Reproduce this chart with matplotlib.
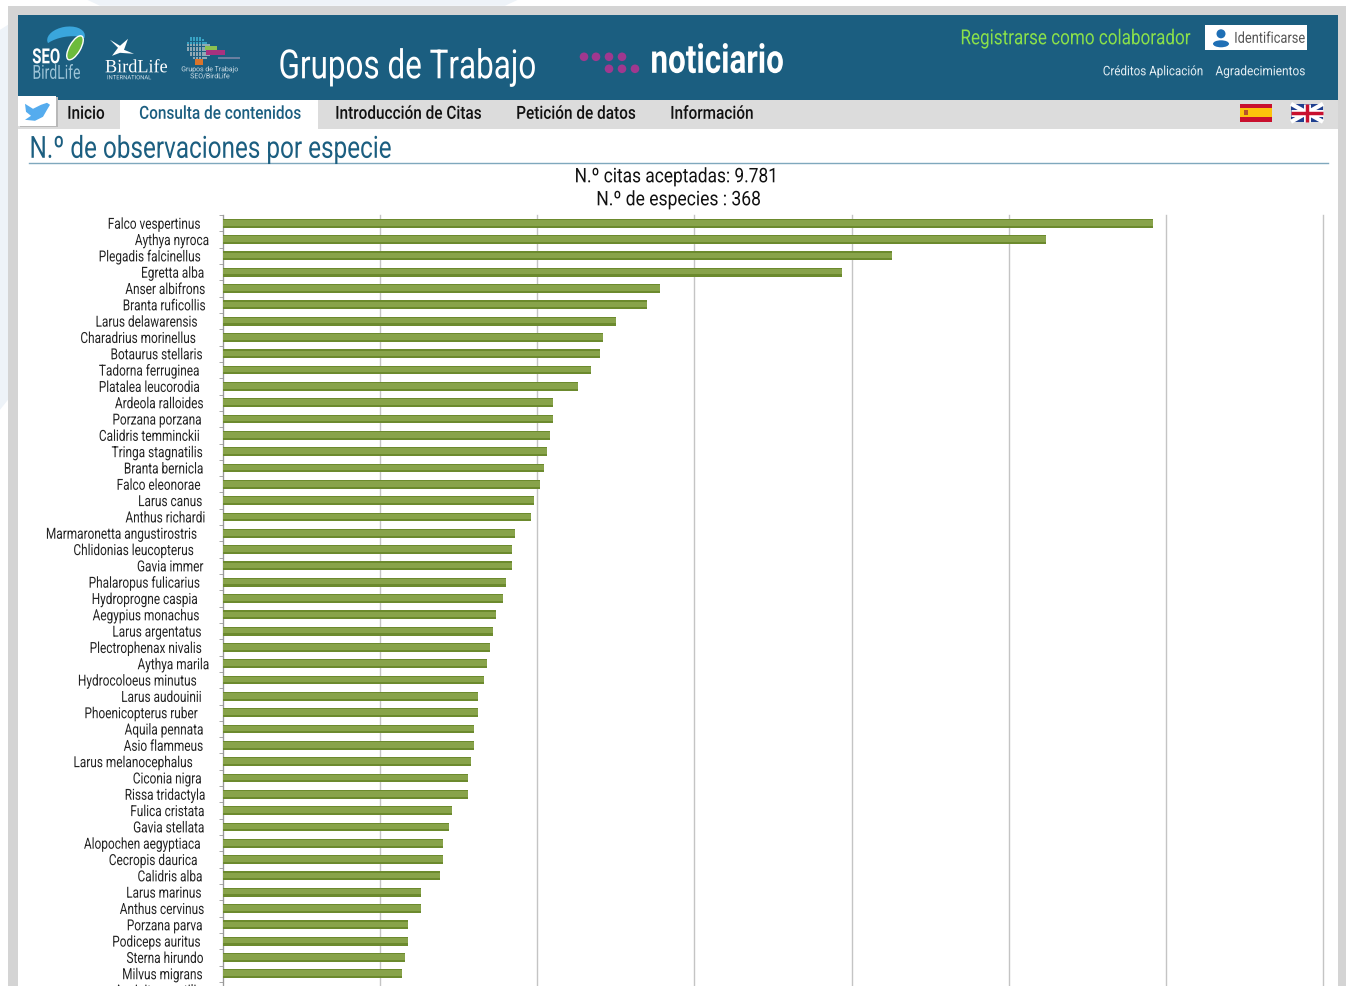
#!/usr/bin/env python
import matplotlib
matplotlib.use('Agg')
import matplotlib.pyplot as plt
from matplotlib.patches import Rectangle, Circle, Ellipse, Polygon
from matplotlib.patheffects import AbstractPathEffect
from matplotlib.transforms import Affine2D

W, H = 1346, 987

species = ['Falco vespertinus', 'Aythya nyroca', 'Plegadis falcinellus', 'Egretta alba',
           'Anser albifrons', 'Branta ruficollis', 'Larus delawarensis', 'Charadrius morinellus',
           'Botaurus stellaris', 'Tadorna ferruginea', 'Platalea leucorodia', 'Ardeola ralloides',
           'Porzana porzana', 'Calidris temminckii', 'Tringa stagnatilis', 'Branta bernicla',
           'Falco eleonorae', 'Larus canus', 'Anthus richardi', 'Marmaronetta angustirostris',
           'Chlidonias leucopterus', 'Gavia immer', 'Phalaropus fulicarius', 'Hydroprogne caspia',
           'Aegypius monachus', 'Larus argentatus', 'Plectrophenax nivalis', 'Aythya marila',
           'Hydrocoloeus minutus', 'Larus audouinii', 'Phoenicopterus ruber', 'Aquila pennata',
           'Asio flammeus', 'Larus melanocephalus', 'Ciconia nigra', 'Rissa tridactyla',
           'Fulica cristata', 'Gavia stellata', 'Alopochen aegyptiaca', 'Cecropis daurica',
           'Calidris alba', 'Larus marinus', 'Anthus cervinus', 'Porzana parva',
           'Podiceps auritus', 'Sterna hirundo', 'Milvus migrans', 'Accipiter gentilis']
counts = [296, 262, 213, 197, 139, 135, 125, 121, 120, 117, 113, 105, 105, 104, 103, 102,
          101, 99, 98, 93, 92, 92, 90, 89, 87, 86, 85, 84, 83, 81, 81, 80, 80, 79, 78, 78,
          73, 72, 70, 70, 69, 63, 63, 59, 59, 58, 57, 56]
# right edge of each species label, the page does not line them up
label_right = [200, 209, 200, 204, 205, 205, 197, 195, 202, 199, 199, 203, 201, 199, 202, 203,
               200, 202, 205, 196, 193, 203, 199, 197, 199, 201, 201, 209, 196, 201, 197, 203,
               203, 192, 201, 205, 204, 204, 200, 197, 202, 201, 204, 202, 200, 203, 202, 202]
x_ticks = [0, 50, 100, 150, 200, 250, 300, 350]

nav_items = ['Inicio', 'Consulta de contenidos', 'Introducción de Citas', 'Petición de datos', 'Información']
nav_x = [67, 139, 335, 516, 670]

plt.rcParams['font.family'] = ['Roboto', 'DejaVu Sans']

HEADER = '#1b5e80'
GREY = '#d4d4d4'
NAV = '#dcdcdc'
SHIFT = 0.8


class Squeeze(AbstractPathEffect):
    # the page font is a condensed one and none is installed, so narrow the glyphs
    def __init__(self, sx, ha='left'):
        super().__init__()
        self.sx = sx
        self.ha = ha

    def draw_path(self, renderer, gc, tpath, affine, rgbFace=None):
        ext = tpath.get_extents()
        ref = {'left': ext.x0, 'center': (ext.x0 + ext.x1) / 2, 'right': ext.x1}[self.ha]
        squeeze = Affine2D().translate(-ref, 0).scale(self.sx, 1).translate(ref, 0)
        renderer.draw_path(gc, tpath, squeeze + affine, rgbFace)


fig = plt.figure(figsize=(W / 100, H / 100), dpi=100, facecolor='white')

# page furniture, drawn in pixel coordinates
bg = fig.add_axes([0, 0, 1, 1])
bg.set_xlim(0, W)
bg.set_ylim(H - SHIFT, -SHIFT)
bg.axis('off')


def box(x0, y0, x1, y1, color, **kw):
    bg.add_patch(Rectangle((x0, y0), x1 - x0, y1 - y0, facecolor=color, edgecolor='none', **kw))


def label(x, y, s, sx, **kw):
    ha = kw.setdefault('ha', 'left')
    kw.setdefault('va', 'center')
    t = bg.text(x, y, s, **kw)
    t.set_path_effects([Squeeze(sx, ha)])
    return t


bg.add_patch(Polygon([(85, -1), (520, -1), (505, 6), (100, 6)], facecolor='#eef3f8', edgecolor='none'))
bg.add_patch(Polygon([(0, 30), (8, 25), (8, 400), (0, 410)], facecolor='#eef3f8', edgecolor='none'))
box(8, 6, W, H, GREY)
box(18, 15, 1338, H, 'white')
box(18, 15, 1338, 100, HEADER)
box(18, 100, 1338, 129, NAV)
box(120, 100, 318, 129, 'white')

# SEO logo
bg.add_patch(Ellipse((66, 38), 38, 22, angle=-10, facecolor='#3aa6dc', edgecolor='none'))
bg.add_patch(Ellipse((66, 47), 46, 20, angle=-10, facecolor=HEADER, edgecolor='none'))
bg.add_patch(Ellipse((75, 48), 11, 27, angle=30, facecolor='#6cbb3c', edgecolor='white', lw=1))
label(32, 58, 'SEO', 0.72, color='white', fontsize=15, fontweight='bold')
label(32, 74, 'BirdLife', 0.72, color='#9cc3d6', fontsize=14)
# BirdLife logo
bg.add_patch(Polygon([(110, 40), (120, 46), (128, 39), (124, 50), (134, 54), (120, 53), (112, 56), (118, 48)],
                     facecolor='white', edgecolor='none'))
label(105, 68, 'BirdLife', 0.97, color='white', fontsize=13.5, family='Liberation Serif')
label(107, 78, 'INTERNATIONAL', 1.0, color='#cfdfe8', fontsize=4.2)
# pixel bird of the working groups
for r, (c0, c1) in enumerate([(1, 5), (1, 6), (0, 7), (0, 8), (0, 8), (0, 8), (1, 8), (1, 8), (2, 7)]):
    for c in range(c0, c1):
        tone = '#38a3c4' if r < 3 else '#8fa9b5'
        box(187 + c * 2.9, 37 + r * 2.5, 189.2 + c * 2.9, 38.9 + r * 2.5, tone)
box(205, 46, 217, 50, '#8cc152')
box(206, 50, 225, 55, '#a8327f')
box(218, 57, 240, 59, '#6a7fa0')
box(195, 59, 203, 65, '#d9742b')
label(210, 70, 'Grupos de Trabajo', 1.0, color='#cfdfe8', fontsize=5, ha='center')
label(210, 77, 'SEO/BirdLife', 1.0, color='#cfdfe8', fontsize=5, ha='center')

label(278, 67, 'Grupos de Trabajo', 0.78, color='white', fontsize=29)
for px, py in [(584, 57), (596, 57), (609, 57), (622, 57), (609, 69), (622, 69), (635, 69)]:
    bg.add_patch(Circle((px, py), 4.3, facecolor='#a0388f', edgecolor='none'))
label(650, 62, 'noticiario', 0.78, color='white', fontsize=29, fontweight='bold')

label(1191, 39, 'Registrarse como colaborador', 0.82, color='#8ae04a', fontsize=15, ha='right')
box(1205, 25, 1307, 50, 'white')
bg.add_patch(Circle((1221, 34), 4.5, facecolor='#1f6fb5', edgecolor='none'))
bg.add_patch(Ellipse((1221, 44), 16, 7, facecolor='#1f6fb5', edgecolor='none'))
label(1305, 39, 'Identificarse', 0.84, color='#555555', fontsize=11, ha='right')
label(1204, 72, 'Créditos Aplicación', 0.88, color='#e4eef3', fontsize=9.5, ha='right')
label(1306, 72, 'Agradecimientos', 0.9, color='#e4eef3', fontsize=9.5, ha='right')

# twitter box
box(19.5, 97.5, 57.5, 127.5, '#b8b8b8', zorder=3)
box(18, 96, 56, 126, 'white', zorder=3)
bg.add_patch(Polygon([(25, 104), (33, 109), (41, 105), (47, 103), (50, 105), (47, 110), (43, 117), (35, 121),
                      (25, 120), (31, 116), (26, 112)], facecolor='#55acee', edgecolor='none', zorder=4))

for item, px in zip(nav_items, nav_x):
    col = HEADER if item == 'Consulta de contenidos' else '#111111'
    label(px, 114, item, 0.85, color=col, fontsize=13, fontweight=500)

# flags
box(1240, 104, 1272, 122, '#c8102e')
box(1240, 108.5, 1272, 117.5, '#fcc30b')
box(1244, 110, 1248, 115, '#b5522a')
box(1291, 104, 1323, 122, '#1f3f8f')
bg.plot([1291, 1323], [104, 122], color='white', lw=3, solid_capstyle='butt')
bg.plot([1291, 1323], [122, 104], color='white', lw=3, solid_capstyle='butt')
bg.plot([1291, 1323], [113, 113], color='white', lw=5, solid_capstyle='butt')
bg.plot([1307, 1307], [104, 122], color='white', lw=5, solid_capstyle='butt')
bg.plot([1291, 1323], [113, 113], color='#c8102e', lw=2.5, solid_capstyle='butt')
bg.plot([1307, 1307], [104, 122], color='#c8102e', lw=2.5, solid_capstyle='butt')

label(29, 149.5, 'N.º de observaciones por especie', 0.795, color=HEADER, fontsize=22)
bg.plot([29, 1328], [163.5, 163.5], color='#7fa8bd', lw=1)
label(676, 177, 'N.º citas aceptadas: 9.781', 0.86, color='#111111', fontsize=14.5, ha='center')
label(678, 200, 'N.º de especies : 368', 0.87, color='#111111', fontsize=14.5, ha='center')

# the chart runs past the bottom of the screenshot
top, bottom = 215.3 + SHIFT, H + 20
row = 16.315
ax = fig.add_axes([223 / W, (H - bottom) / H, 1100 / W, (bottom - top) / H])
ax.patch.set_alpha(0)
ax.set_xlim(0, 350)
ax.set_ylim((bottom - top) / row - 0.5, -0.5)
y_pos = list(range(len(species)))
ax.barh(y_pos, counts, height=0.54, color='#6c8a2e', edgecolor='none', zorder=3)
# lighter band along the middle of each bar
ax.barh([y - 0.03 for y in y_pos], counts, height=0.34, color='#88a34a', edgecolor='none', zorder=4)
ax.set_xticks(x_ticks)
ax.tick_params(axis='x', length=0, labelbottom=False)
ax.grid(axis='x', color='#c4c4c4', lw=1, zorder=0, clip_on=False)
ax.set_axisbelow(True)
for side in ['top', 'right', 'bottom']:
    ax.spines[side].set_visible(False)
ax.spines['left'].set_color('#999999')
ax.set_yticks(y_pos)
ax.set_yticklabels(species, fontsize=11, color='#222222')
ax.tick_params(axis='y', which='major', length=0)
ax.set_yticks([i - 0.5 for i in range(len(species) + 1)], minor=True)
ax.tick_params(axis='y', which='minor', length=3, color='#999999')
for tick, right in zip(ax.yaxis.get_major_ticks(), label_right):
    tick.set_pad((223 - right) * 0.72)
    tick.label1.set_path_effects([Squeeze(0.775, 'right')])

fig.savefig('out.png', dpi=100)
